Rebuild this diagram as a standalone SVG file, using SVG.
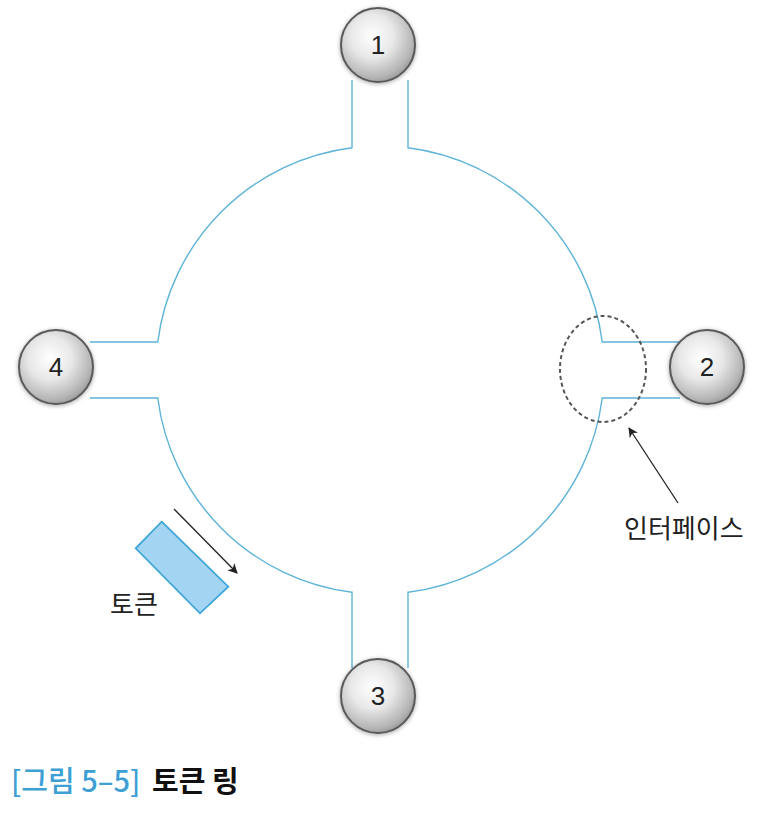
<svg xmlns="http://www.w3.org/2000/svg" width="762" height="821" viewBox="0 0 762 821">
<style>
.ring{fill:none;stroke:#5db3d8;stroke-width:1.4}
.node{fill:url(#ball);stroke:#5a5a5a;stroke-width:2;filter:url(#sh)}
.num{font-family:"Liberation Sans","Noto Sans",sans-serif;font-size:26px;fill:#222;text-anchor:middle}
.lbl{font-family:"Noto Sans CJK KR","Noto Sans",sans-serif;font-size:26px;fill:#222}
.arr{stroke:#222;stroke-width:1.3;fill:none;marker-end:url(#ah)}
.cap{font-family:"Noto Sans CJK KR","Noto Sans",sans-serif;font-size:29px}
</style>
<defs>
<radialGradient id="ball" cx="0.42" cy="0.38" r="0.65">
<stop offset="0" stop-color="#ffffff"/>
<stop offset="0.45" stop-color="#e8e8e8"/>
<stop offset="0.85" stop-color="#b6b6b6"/>
<stop offset="1" stop-color="#9a9a9a"/>
</radialGradient>
<filter id="sh" x="-30%" y="-30%" width="160%" height="160%">
<feDropShadow dx="0" dy="1" stdDeviation="2" flood-color="#000" flood-opacity="0.35"/>
</filter>
<marker id="ah" viewBox="0 0 10 10" refX="9" refY="5" markerWidth="10" markerHeight="10" markerUnits="userSpaceOnUse" orient="auto">
<path d="M0,0 L10,5 L0,10 L3,5 Z" fill="#222"/>
</marker>
</defs>
<rect width="762" height="821" fill="#fff"/>
<g id="connectors">
<path class="ring" d="M352,80 V147.76 A224,224 0 0 0 157.76,342 H90"/>
<path class="ring" d="M408,80 V147.76 A224,224 0 0 1 602.24,342 H680"/>
<path class="ring" d="M680,398 H602.24 A224,224 0 0 1 408,592.24 V668"/>
<path class="ring" d="M352,668 V592.24 A224,224 0 0 1 157.76,398 H90"/>
</g>
<g id="interface">
<ellipse cx="603" cy="369" rx="43" ry="53" fill="none" stroke="#555" stroke-width="2" stroke-dasharray="4,3"/>
<line class="arr" x1="678" y1="503" x2="629" y2="428"/>
<text class="lbl" x="624" y="538">인터페이스</text>
</g>
<g id="token">
<polygon points="161.7,521.7 228.3,586.7 200,613.3 135.7,548.3" fill="#a3d5f2" stroke="#3ea6d8" stroke-width="1.8"/>
<line class="arr" x1="174" y1="509" x2="237" y2="573"/>
<text class="lbl" x="110" y="614">토큰</text>
</g>
<g id="node1"><circle class="node" cx="378" cy="45" r="37"/><text class="num" x="378" y="54">1</text></g>
<g id="node2"><circle class="node" cx="707" cy="367" r="37"/><text class="num" x="707" y="376">2</text></g>
<g id="node3"><circle class="node" cx="378" cy="696" r="37"/><text class="num" x="378" y="705">3</text></g>
<g id="node4"><circle class="node" cx="56" cy="367" r="37"/><text class="num" x="56" y="376">4</text></g>
<g id="caption">
<text class="cap" x="11" y="792" fill="#3d9fd3" font-weight="500">[그림 5–5]</text>
<text class="cap" x="152" y="792" font-weight="bold" fill="#111">토큰 링</text>
</g>
</svg>
